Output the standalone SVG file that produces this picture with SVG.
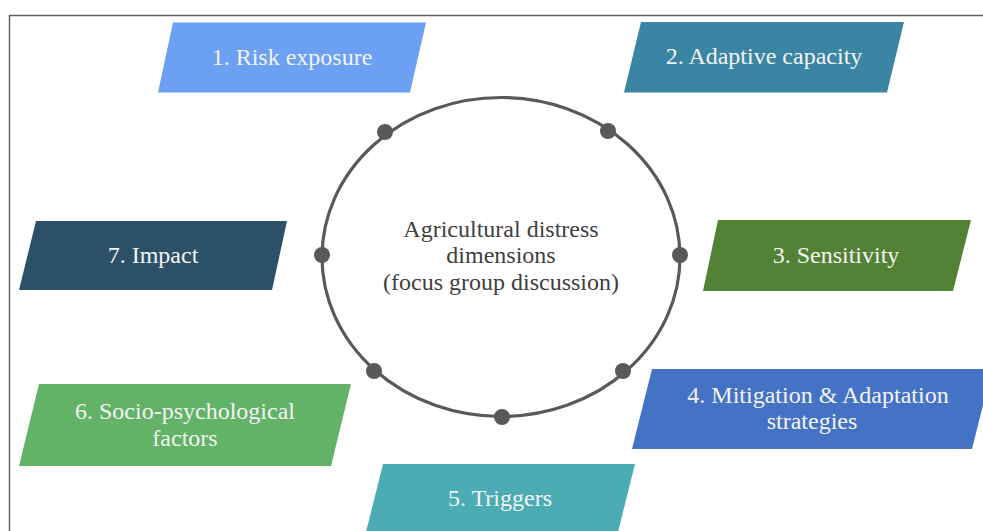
<svg xmlns="http://www.w3.org/2000/svg" width="983" height="531" viewBox="0 0 983 531">
<style>
.lbl{font-family:"Liberation Serif","Times New Roman",serif;font-size:24px;fill:#F4F4F4;text-anchor:middle}
.ctr{font-family:"Liberation Serif","Times New Roman",serif;font-size:24px;fill:#404040;text-anchor:middle}
.dot{fill:#595959}
</style>
<rect width="983" height="531" fill="#FFFFFF"/>
<path d="M9.5,531 V15.5 H983" fill="none" stroke="#5F5F5F" stroke-width="1.4"/>
<g id="center">
<ellipse cx="501" cy="257" rx="179" ry="159.5" fill="none" stroke="#595959" stroke-width="3.2"/>
<circle class="dot" cx="385" cy="132" r="8"/>
<circle class="dot" cx="608" cy="131" r="8"/>
<circle class="dot" cx="322" cy="255" r="8"/>
<circle class="dot" cx="680" cy="255" r="8"/>
<circle class="dot" cx="374" cy="371" r="8"/>
<circle class="dot" cx="623" cy="371" r="8"/>
<circle class="dot" cx="502" cy="417" r="8"/>
<text class="ctr" x="501" y="237">Agricultural distress</text>
<text class="ctr" x="501" y="263">dimensions</text>
<text class="ctr" x="501" y="289.5">(focus group discussion)</text>
</g>
<g id="n1">
<polygon points="173,22.5 426,22.5 410,92.5 158,92.5" fill="#6CA0F2"/>
<text class="lbl" x="292" y="65">1. Risk exposure</text>
</g>
<g id="n2">
<polygon points="641,22 904,22 887,92.5 624,92.5" fill="#3A84A4"/>
<text class="lbl" x="764" y="64">2. Adaptive capacity</text>
</g>
<g id="n3">
<polygon points="718,220 971,220 953,291 703,291" fill="#528235"/>
<text class="lbl" x="836" y="263">3. Sensitivity</text>
</g>
<g id="n4">
<polygon points="652,369 992,369 972,449 632,449" fill="#4472C4"/>
<text class="lbl" x="818" y="403">4. Mitigation &amp; Adaptation</text>
<text class="lbl" x="812" y="429">strategies</text>
</g>
<g id="n5">
<polygon points="383,464 635,464 615,544 363,544" fill="#4BACB4"/>
<text class="lbl" x="500" y="506">5. Triggers</text>
</g>
<g id="n6">
<polygon points="39,384 351,384 331,466 19,466" fill="#62B268"/>
<text class="lbl" x="185" y="419">6. Socio-psychological</text>
<text class="lbl" x="185" y="446">factors</text>
</g>
<g id="n7">
<polygon points="36,221 287,221 272,290 19,290" fill="#2C5068"/>
<text class="lbl" x="153" y="263">7. Impact</text>
</g>
</svg>
